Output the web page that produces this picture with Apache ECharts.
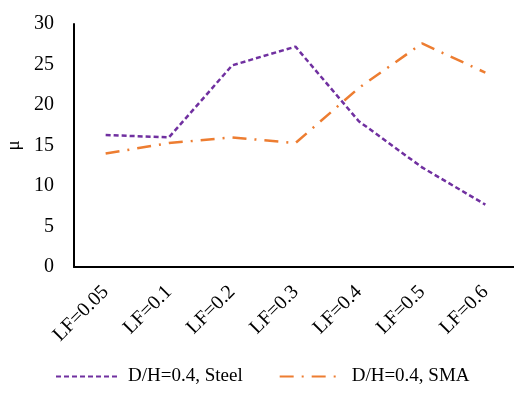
<!DOCTYPE html>
<html><head><meta charset="utf-8">
<script src="https://cdn.jsdelivr.net/npm/echarts@6/dist/echarts.min.js"></script>
<style>html,body{margin:0;padding:0;background:#fff}#c{width:514px;height:394px}</style>
</head><body><div id="c"></div>
<script>
const categories = ['LF=0.05','LF=0.1','LF=0.2','LF=0.3','LF=0.4','LF=0.5','LF=0.6'];
const steel = [16.3, 16.0, 24.9, 27.2, 18.0, 12.3, 7.7];
const sma = [14.0, 15.3, 16.0, 15.3, 22.1, 27.6, 24.0];
const seriesNames = ['D/H=0.4, Steel', 'D/H=0.4, SMA'];
const yTicks = {min: 0, max: 30, interval: 5};
const font = 'Liberation Serif';
const chart = echarts.init(document.getElementById('c'));
chart.setOption({
  animation: false,
  grid: {left: 74, top: 24, bottom: 127, width: 443, containLabel: false, outerBoundsMode: 'none'},
  xAxis: {
    type: 'category', data: categories, boundaryGap: true,
    axisLine: {lineStyle: {color: '#000', width: 2}},
    axisTick: {show: false},
    axisLabel: {rotate: 45, color: '#000', fontFamily: font, fontSize: 20, margin: 22, interval: 0}
  },
  yAxis: {
    type: 'value', min: yTicks.min, max: yTicks.max, interval: yTicks.interval,
    name: 'μ', nameLocation: 'middle', nameGap: 50, nameRotate: 90,
    nameTextStyle: {color: '#000', fontFamily: font, fontSize: 19},
    axisLine: {show: true, lineStyle: {color: '#000', width: 2}},
    axisTick: {show: false},
    splitLine: {show: false},
    axisLabel: {color: '#000', fontFamily: font, fontSize: 20, margin: 20}
  },
  legend: {
    bottom: 3, left: 50, itemWidth: 62, itemHeight: 12, itemGap: 36,
    itemStyle: {opacity: 0},
    textStyle: {color: '#000', fontFamily: font, fontSize: 19, padding: [0,0,0,5]},
    data: seriesNames
  },
  series: [
    {name: seriesNames[0], type: 'line', data: steel, symbol: 'none',
     lineStyle: {color: '#7030A0', width: 2.5, type: [5, 3]}, itemStyle: {color: '#7030A0'}},
    {name: seriesNames[1], type: 'line', data: sma, symbol: 'none',
     lineStyle: {color: '#ED7D31', width: 2.5, type: [14, 8, 2, 8]}, itemStyle: {color: '#ED7D31'}}
  ]
});
</script></body></html>
